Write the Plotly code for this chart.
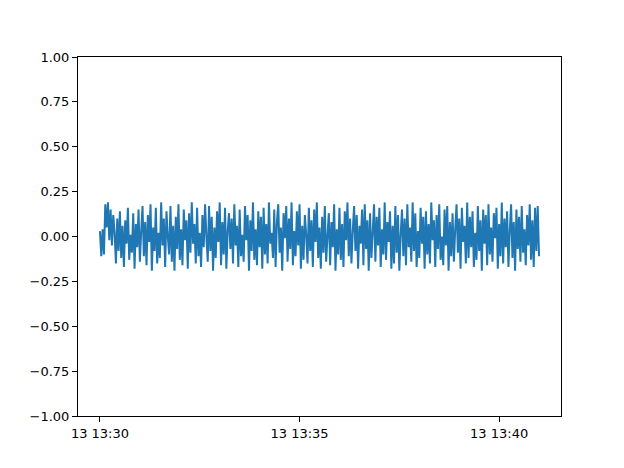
import pandas as pd
import plotly.graph_objects as go

start_time = "2021-01-13 13:30:00"
end_time = "2021-01-13 13:41:00"

values = [
    0.03, -0.11, 0.04, -0.10, 0.18, 0.05, 0.19, -0.02, 0.15, -0.05, 0.12, 0.02, -0.15, 0.10, -0.08, 0.14, -0.12, 0.06, -0.17, 0.09,
    -0.04, 0.16, -0.13, 0.01, -0.09, 0.13, -0.18, 0.07, -0.06, 0.15, -0.14, 0.03, 0.17, -0.11, 0.08, -0.16, 0.12, -0.03, 0.18, -0.19,
    0.05, -0.08, 0.16, -0.15, 0.02, -0.12, 0.19, -0.05, 0.10, -0.17, 0.14, 0.00, -0.10, 0.17, -0.14, 0.06, -0.19, 0.11, -0.07, 0.18,
    -0.13, 0.04, -0.16, 0.15, -0.02, 0.09, -0.18, 0.13, -0.09, 0.19, -0.04, 0.07, -0.15, 0.16, -0.11, 0.02, -0.17, 0.12, -0.06, 0.18,
    0.00, -0.14, 0.17, -0.08, 0.11, -0.19, 0.05, -0.12, 0.14, -0.03, 0.19, -0.16, 0.08, -0.10, 0.16, -0.18, 0.03, 0.13, -0.07, 0.10,
    -0.15, 0.18, -0.05, 0.06, -0.17, 0.15, -0.11, 0.01, -0.14, 0.17, -0.02, 0.12, -0.19, 0.09, -0.08, 0.19, -0.13, 0.04, -0.16, 0.14,
    -0.06, 0.11, -0.18, 0.16, -0.10, 0.07, -0.15, 0.19, -0.04, 0.02, -0.12, 0.15, -0.17, 0.08, 0.18, -0.09, 0.05, -0.19, 0.13, -0.01,
    0.17, -0.14, 0.10, -0.07, 0.19, -0.16, 0.03, -0.11, 0.14, -0.05, 0.18, -0.18, 0.06, -0.13, 0.12, 0.01, -0.15, 0.16, -0.08, 0.09,
    -0.17, 0.15, -0.03, 0.19, -0.12, 0.05, -0.18, 0.11, -0.09, 0.17, -0.14, 0.00, 0.13, -0.16, 0.08, -0.06, 0.18, -0.19, 0.04, -0.10,
    0.16, -0.13, 0.07, -0.17, 0.14, -0.02, 0.19, -0.11, 0.10, -0.15, 0.03, 0.17, -0.08, 0.12, -0.18, 0.06, -0.04, 0.15, -0.16, 0.18,
    -0.07, 0.09, -0.19, 0.13, -0.12, 0.02, 0.18, -0.14, 0.11, -0.05, 0.16, -0.17, 0.04, -0.10, 0.19, -0.13, 0.08, -0.03, 0.14, -0.18,
    0.06, -0.15, 0.17, -0.09, 0.12, -0.19, 0.01, 0.15, -0.11, 0.10, -0.16, 0.18, -0.06, 0.05, -0.14, 0.19, -0.08, 0.13, -0.17, 0.03,
    -0.12, 0.16, -0.04, 0.11, -0.18, 0.14, -0.10, 0.07, -0.15, 0.19, -0.02, 0.09, -0.17, 0.12, -0.07, 0.18, -0.13, 0.00, -0.16, 0.15,
    -0.05, 0.17, -0.19, 0.08, -0.11, 0.13, -0.14, 0.04, 0.18, -0.09, 0.10, -0.18, 0.16, -0.03, 0.06, -0.15, 0.19, -0.12, 0.11, -0.06,
    0.14, -0.17, 0.02, -0.13, 0.17, -0.08, 0.09, -0.19, 0.15, -0.04, 0.12, -0.16, 0.18, -0.10, 0.05, -0.14, 0.13, -0.01, 0.16, -0.18,
    0.07, -0.11, 0.19, -0.15, 0.10, -0.06, 0.14, -0.17, 0.03, 0.18, -0.12, 0.08, -0.19, 0.15, -0.07, 0.11, -0.14, 0.17, -0.09, 0.04,
    -0.16, 0.12, -0.05, 0.18, -0.13, 0.09, -0.17, 0.16, -0.08, 0.17, -0.11,
]

x_tick_times = ["2021-01-13 13:30:00", "2021-01-13 13:35:00", "2021-01-13 13:40:00"]
x_tick_labels = ["13 13:30", "13 13:35", "13 13:40"]
y_tick_values = [-1.0, -0.75, -0.5, -0.25, 0.0, 0.25, 0.5, 0.75, 1.0]

times = pd.date_range(start_time, end_time, periods=len(values))
span = times[-1] - times[0]
x_range = [times[0] - span * 0.05, times[-1] + span * 0.05]

fig = go.Figure()
fig.add_trace(go.Scatter(
    x=times, y=values, mode="lines",
    line=dict(color="#1f77b4", width=2, simplify=False),
    showlegend=False,
))

axis_common = dict(
    showline=True, mirror=True, linecolor="black", linewidth=1,
    ticks="outside", ticklen=5, tickwidth=1, tickcolor="black",
    showgrid=False, zeroline=False,
    tickfont=dict(family="DejaVu Sans", size=13, color="black"),
)

fig.update_layout(
    width=624, height=468,
    margin=dict(l=70, r=71, t=49, b=60),
    paper_bgcolor="white", plot_bgcolor="white",
    xaxis=dict(range=x_range, tickmode="array", tickvals=x_tick_times,
               ticktext=x_tick_labels, **axis_common),
    yaxis=dict(range=[-1, 1], tickmode="array", tickvals=y_tick_values,
               tickformat=".2f", **axis_common),
)

fig.write_html("out.html")
